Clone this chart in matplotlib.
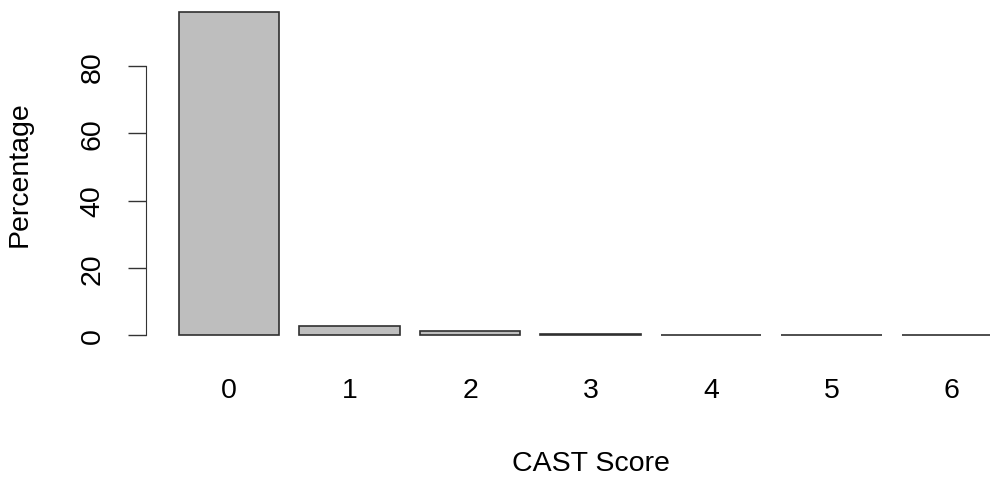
import numpy as np
import matplotlib
matplotlib.use("Agg")
import matplotlib.pyplot as plt

# CAST score distribution (percent of respondents)
scores = ["0", "1", "2", "3", "4", "5", "6"]
percent = [96.1, 2.7, 1.1, 0.35, 0.12, 0.06, 0.03]

plt.rcParams['font.family'] = ['Liberation Sans', 'DejaVu Sans']
FS = 20.5

fig = plt.figure(figsize=(9.9, 4.81), dpi=100)
# R-style plot region, right edge runs past the picture like the original crop
ax = fig.add_axes([146 / 990, (481 - 349) / 481, 889 / 990, 349 / 481])

# barplot layout: width 1, space 0.2
pos = 0.7 + 1.2 * np.arange(len(scores))
ax.bar(pos, percent, width=1.0, color="#bebebe", edgecolor="#303030", linewidth=1.2)

ax.set_xlim(0.2 - 0.328, 8.4 + 0.328)
top = max(percent)
ax.set_ylim(-0.04 * top, 1.04 * top)

for s in ["top", "right", "bottom"]:
    ax.spines[s].set_visible(False)
ax.spines["left"].set_bounds(0, 80)
ax.spines["left"].set_color("#333333")

ax.set_yticks([0, 20, 40, 60, 80])
ax.set_yticklabels(["0", "20", "40", "60", "80"], rotation=90, va="center")
ax.tick_params(axis="y", length=13, width=1, color="#333333", labelsize=FS, pad=16)

ax.set_xticks(pos)
ax.set_xticklabels(scores)
ax.tick_params(axis="x", length=0, labelsize=FS, pad=21)

ax.set_xlabel("CAST Score", fontsize=FS, labelpad=34)
ax.set_ylabel("Percentage", fontsize=FS, labelpad=34)

fig.savefig("out.png", dpi=100)
